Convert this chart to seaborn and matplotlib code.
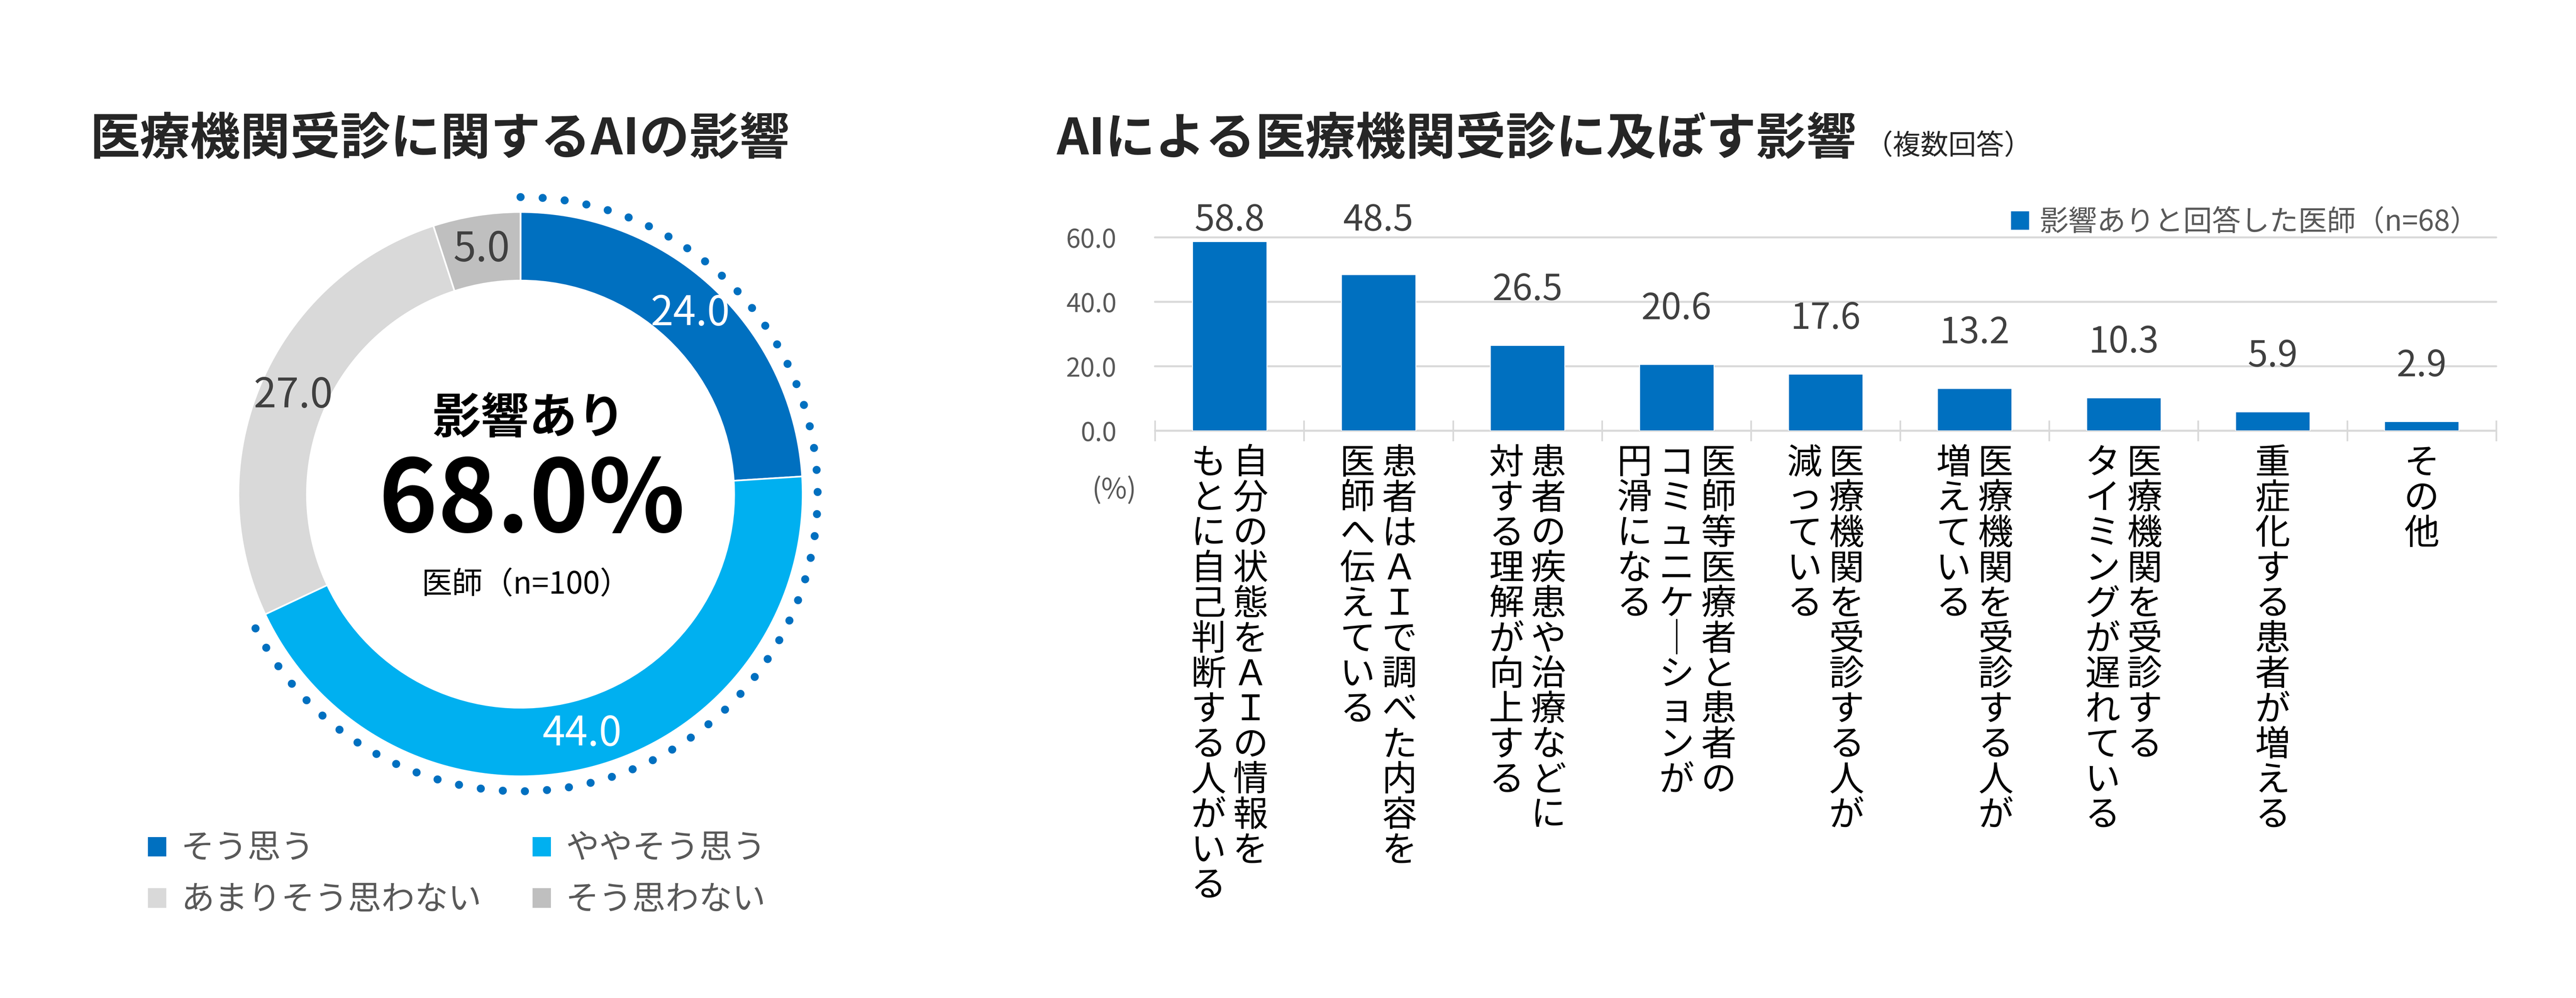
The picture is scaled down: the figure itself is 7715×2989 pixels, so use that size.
import numpy as np
import pandas as pd
import seaborn as sns
import matplotlib.pyplot as plt
from matplotlib.ticker import FixedLocator, FormatStrFormatter

# left: donut data
answer_labels = ['そう思う', 'ややそう思う', 'あまりそう思わない', 'そう思わない']
answer_values = [24.0, 44.0, 27.0, 5.0]
answer_colors = ['#0070C0', '#00B0F0', '#D9D9D9', '#BFBFBF']
n_doctors = 100

# right: bar data (lines of each label, read right to left in vertical writing)
effect_labels = [
    '自分の状態をＡＩの情報を\nもとに自己判断する人がいる',
    '患者はＡＩで調べた内容を\n医師へ伝えている',
    '患者の疾患や治療などに\n対する理解が向上する',
    '医師等医療者と患者の\nコミュニケーションが\n円滑になる',
    '医療機関を受診する人が\n減っている',
    '医療機関を受診する人が\n増えている',
    '医療機関を受診する\nタイミングが遅れている',
    '重症化する患者が増える',
    'その他',
]
effect_values = [58.8, 48.5, 26.5, 20.6, 17.6, 13.2, 10.3, 5.9, 2.9]
n_affected = 68
y_ticks = [0, 20, 40, 60]

sns.set_theme(style='white')
plt.rcParams['font.family'] = ['Noto Sans CJK JP', 'DejaVu Sans']

W, H, DPI = 7715, 2989, 200
def pt(px):
    return px * 72 / DPI

fig = plt.figure(figsize=(W / DPI, H / DPI), dpi=DPI)

# ---------- donut ----------
cx, cy, r_out, box = 1559, 1480, 845, 940
ax_pie = fig.add_axes([(cx - box) / W, (H - cy - box) / H, 2 * box / W, 2 * box / H])
total = sum(answer_values)
wedges, _, autotexts = ax_pie.pie(
    answer_values, colors=answer_colors, startangle=90, counterclock=False,
    wedgeprops=dict(width=0.243, edgecolor='white', linewidth=pt(5)),
    autopct=lambda p: f'{p * total / 100:.1f}', pctdistance=0.878,
    textprops=dict(fontsize=44))
for t, c in zip(autotexts, ['white', 'white', '#404040', '#404040']):
    t.set_color(c)
lim = box / r_out
ax_pie.set_xlim(-lim, lim)
ax_pie.set_ylim(-lim, lim)
ax_pie.set_aspect('equal')

# dotted arc around the "impact" share
share = (answer_values[0] + answer_values[1]) / total
theta = np.radians(np.linspace(90, 90 - 360 * share, 400))
ax_pie.plot(1.053 * np.cos(theta), 1.053 * np.sin(theta), color='#0070C0',
            lw=pt(24), linestyle=(0, (0.01, 2.75)), dash_capstyle='round')

ax_pie.text(0.03, 0.267, '影響あり', ha='center', va='center', fontsize=52, weight='bold', color='black')
ax_pie.text(0.04, -0.03, f'{share * 100:.1f}%', ha='center', va='center', fontsize=108, weight='bold', color='black')
ax_pie.text(0.02, -0.322, f'医師（n={n_doctors}）', ha='center', va='center', fontsize=33, color='black')

order = [0, 2, 1, 3]
fig.legend([wedges[i] for i in order], [answer_labels[i] for i in order], ncol=2,
           loc='upper left', bbox_to_anchor=(440 / W, 1 - 2490 / H), frameon=False,
           fontsize=36, handlelength=0.6, handleheight=0.6, handletextpad=0.42,
           columnspacing=1.5, labelspacing=0.5, borderpad=0, borderaxespad=0,
           labelcolor='#595959')

fig.text(270 / W, 1 - 462 / H, '医療機関受診に関するAIの影響', fontsize=54, weight='bold', va='baseline')

# ---------- bars ----------
ax = fig.add_axes([3459 / W, (H - 1290) / H, 4017 / W, 579 / H])
df = pd.DataFrame({'effect': effect_labels, 'share': effect_values})
sns.barplot(data=df, x='effect', y='share', color='#0070C0', saturation=1, width=0.5, ax=ax)
ax.set_xlim(-0.5, len(effect_values) - 0.5)
ax.set_ylim(0, 60)
ax.set_yticks(y_ticks)
ax.yaxis.set_major_formatter(FormatStrFormatter('%.1f'))
ax.tick_params(axis='y', length=0, labelsize=28, labelcolor='#595959', pad=pt(115))
ax.set_xticks([])
ax.xaxis.set_minor_locator(FixedLocator(np.arange(-0.5, len(effect_values))))
ax.tick_params(axis='x', which='minor', direction='inout', length=pt(62), width=pt(5),
               color='#D9D9D9', bottom=True)
ax.grid(axis='y', color='#D9D9D9', lw=pt(6))
ax.set_axisbelow(True)
for gl in ax.get_ygridlines():
    gl.set_clip_on(False)
for s in ax.spines.values():
    s.set_visible(False)
ax.set_xlabel('')
ax.set_ylabel('')

label_y = np.minimum(np.array(effect_values) + 14.0, 62.1)
for i, (v, yv) in enumerate(zip(effect_values, label_y)):
    ax.text(i, yv, f'{v:.1f}', ha='center', va='baseline', fontsize=39,
            color='#404040', clip_on=False)

def vertical(s):
    return '\n'.join(s.replace('ー', '｜'))

for i, lab in enumerate(effect_labels):
    cols = lab.split('\n')
    n = len(cols)
    for j, col in enumerate(cols):
        dx = ((n - 1) / 2 - j) * pt(126)
        ax.annotate(vertical(col), xy=(i, 0), xycoords=('data', 'axes fraction'),
                    xytext=(dx, -pt(44)), textcoords='offset points', ha='center',
                    va='top', fontsize=38, linespacing=0.965, color='black')

ax.legend(handles=[ax.patches[0]], labels=[f'影響ありと回答した医師（n={n_affected}）'],
          loc='center right', bbox_to_anchor=(7424 / W, 1 - 666 / H),
          bbox_transform=fig.transFigure, frameon=False, fontsize=31,
          handlelength=0.66, handleheight=0.66, handletextpad=0.35,
          borderpad=0, borderaxespad=0, labelcolor='#595959')

fig.text(3337 / W, 1 - 1468 / H, '(%)', ha='center', va='center', fontsize=30, color='#595959')
fig.text(3165 / W, 1 - 462 / H, 'AIによる医療機関受診に及ぼす影響', fontsize=54, weight='bold', va='baseline')
fig.text(5585 / W, 1 - 462 / H, '（複数回答）', fontsize=30, va='baseline')

fig.savefig('out.png', dpi=DPI)
